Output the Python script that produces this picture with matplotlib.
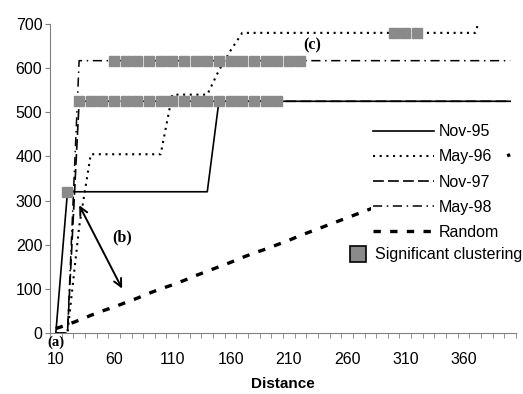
import matplotlib
matplotlib.use('Agg')
from matplotlib import pyplot as plt
from matplotlib.lines import Line2D

plt.rcParams['font.family'] = ['Liberation Sans', 'DejaVu Sans']

# categorias del eje x (distancia)
distancia = [10, 20, 30, 40, 50, 60, 70, 80, 90, 100,
             110, 120, 130, 140, 150, 160, 170, 180, 190, 200,
             210, 220, 230, 240, 250, 260, 270, 280, 290, 300,
             310, 320, 330, 340, 350, 360, 370, 380, 390, 400]

nov95 = [0, 320, 320, 320, 320, 320, 320, 320, 320, 320,
         320, 320, 320, 320, 525, 525, 525, 525, 525, 525,
         525, 525, 525, 525, 525, 525, 525, 525, 525, 525,
         525, 525, 525, 525, 525, 525, 525, 525, 525, 525]
may96 = [0, 0, 240, 405, 405, 405, 405, 405, 405, 405,
         540, 540, 540, 540, 595, 640, 680, 680, 680, 680,
         680, 680, 680, 680, 680, 680, 680, 680, 680, 680,
         680, 680, 680, 680, 680, 680, 680, 760, 760, 760]
nov97 = [0, 0, 525, 525, 525, 525, 525, 525, 525, 525,
         525, 525, 525, 525, 525, 525, 525, 525, 525, 525,
         525, 525, 525, 525, 525, 525, 525, 525, 525, 525,
         525, 525, 525, 525, 525, 525, 525, 525, 525, 525]
may98 = [0, 0, 617, 617, 617, 617, 617, 617, 617, 617,
         617, 617, 617, 617, 617, 617, 617, 617, 617, 617,
         617, 617, 617, 617, 617, 617, 617, 617, 617, 617,
         617, 617, 617, 617, 617, 617, 617, 617, 617, 617]
aleatorio = [10, 19, 29, 40, 50, 59, 69, 79, 90, 100,
             109, 119, 130, 140, 150, 160, 171, 181, 190, 200,
             210, 221, 231, 241, 251, 261, 271, 281, 292, 302,
             312, 322, 333, 343, 353, 363, 374, 384, 394, 404]

# puntos con agrupamiento significativo (distancias)
sig_nov95 = [20]
sig_may96 = [300, 310, 320]
sig_nov97 = [30, 40, 50, 60, 70, 80, 90, 100, 110, 120, 130, 140,
             150, 160, 170, 180, 190, 200]
sig_may98 = [60, 70, 80, 90, 100, 110, 120, 130, 140, 150, 160, 170,
             180, 190, 200, 210, 220]

etiquetas_x = [10, 60, 110, 160, 210, 260, 310, 360]
etiquetas_y = [0, 100, 200, 300, 400, 500, 600, 700]

gris = '#8a8a8a'

fig = plt.figure(figsize=(5.23, 3.94), dpi=100)
ax = fig.add_axes([0.0956, 0.1548, 0.891, 0.7842])

l1, = ax.plot(distancia, nov95, color='black', lw=1.2, label='Nov-95')
l2, = ax.plot(distancia, may96, color='black', lw=1.5, linestyle=(0, (1, 2.2)), label='May-96')
l3, = ax.plot(distancia, nov97, color='black', lw=1.2, linestyle=(0, (6.5, 2.5)), label='Nov-97')
l4, = ax.plot(distancia, may98, color='black', lw=1.1, linestyle=(0, (6, 3, 1, 3)), label='May-98')
l5, = ax.plot(distancia, aleatorio, color='black', lw=2.4, linestyle=(0, (2.2, 2.8)), label='Random')

# marcadores de agrupamiento significativo
for xs, serie in [(sig_nov95, nov95), (sig_may96, may96), (sig_nov97, nov97), (sig_may98, may98)]:
    ys = [serie[distancia.index(v)] for v in xs]
    ax.plot(xs, ys, linestyle='none', marker='s', markersize=6.8,
            mfc=gris, mec=gris, zorder=3)

ax.set_xlim(5, 405)
ax.set_ylim(0, 700)
ax.set_xticks(etiquetas_x)
ax.set_xticks([d - 5 for d in distancia] + [405], minor=True)
ax.set_yticks(etiquetas_y)
ax.tick_params(axis='x', which='major', length=0, pad=14, labelsize=11.5)
ax.tick_params(axis='x', which='minor', length=3.5, color='#808080', direction='out')
ax.tick_params(axis='y', length=3.5, color='#808080', pad=2, labelsize=11.5)
for s in ['top', 'right']:
    ax.spines[s].set_visible(False)
for s in ['left', 'bottom']:
    ax.spines[s].set_color('#808080')
ax.set_xlabel('Distance', fontweight='bold', fontsize=11, labelpad=7)

# anotaciones
serif = dict(family='Liberation Serif', fontweight='bold', fontsize=11.5)
ax.annotate('', xy=(29, 295), xytext=(68, 95),
            arrowprops=dict(arrowstyle='<->', color='black', lw=1.4,
                            mutation_scale=14))
ax.text(67, 217, '(b)', ha='center', va='center', **serif)
ax.text(230, 652, '(c)', ha='center', va='center', **serif)
ax.text(10, -21, '(a)', ha='center', va='center', clip_on=False,
        family='Liberation Serif', fontweight='bold', fontsize=10.5)

leg = fig.legend(handles=[l1, l2, l3, l4, l5], loc='upper left',
                 bbox_to_anchor=(371 / 523, 1 - 122 / 394), fontsize=11.5,
                 handlelength=3.8, handletextpad=0.3, labelspacing=0.63,
                 borderpad=0.15, borderaxespad=0, frameon=True, fancybox=False,
                 facecolor='white', edgecolor='none', framealpha=1)
sq = Line2D([], [], linestyle='none', marker='s', markersize=12,
            mfc=gris, mec='black', mew=1.2)
leg2 = fig.legend(handles=[sq], labels=['Significant clustering'], loc='upper left',
                  bbox_to_anchor=(345 / 523, 1 - 245 / 394), fontsize=11.5,
                  handlelength=1.3, handletextpad=0.4, borderpad=0.15,
                  borderaxespad=0, frameon=True, fancybox=False,
                  facecolor='white', edgecolor='none', framealpha=1)
fig.add_artist(leg)

fig.savefig('out.png', dpi=100)
